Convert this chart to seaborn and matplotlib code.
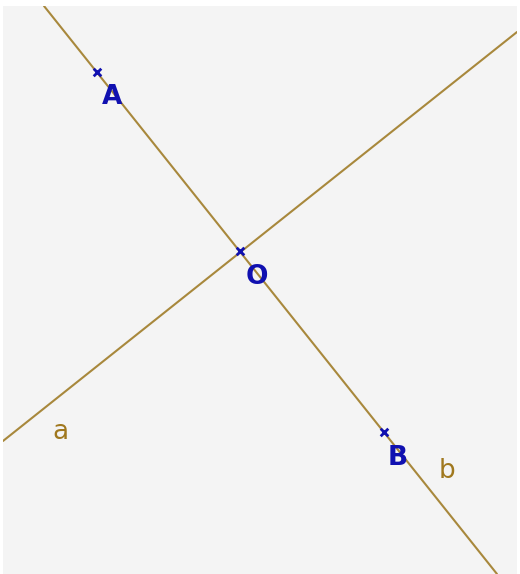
import matplotlib

matplotlib.use("Agg")
import matplotlib.pyplot as plt
import pandas as pd
import seaborn as sns

# points on line b (pixel coordinates of the drawing)
point_names = ["A", "O", "B"]
point_x = [97, 240, 384]
point_y = [72, 251, 432]
point_label_x = [112, 257, 398]
point_label_y = [97, 277, 458]

# the two lines through O, given by their end points on the panel border
line_names = ["a", "a", "b", "b"]
line_x = [3, 517, 44, 497]
line_y = [441, 32, 6, 574]
line_label_x = [60, 447]
line_label_y = [432, 471]

LINE_COLOR = "#a8883c"
LABEL_COLOR = "#a0781e"
POINT_COLOR = "#1010b0"

sns.set_style("white")
plt.rcParams["font.family"] = ["DejaVu Sans"]

fig = plt.figure(figsize=(5.2, 5.74), dpi=100)
fig.patch.set_facecolor("white")
ax = fig.add_axes([3 / 520, 0, 514 / 520, 568 / 574])
ax.set_facecolor("#f4f4f4")

lines_df = pd.DataFrame({"name": line_names, "x": line_x, "y": line_y})
sns.lineplot(
    data=lines_df, x="x", y="y", units="name", estimator=None, sort=False,
    color=LINE_COLOR, linewidth=1.5, ax=ax,
)

points_df = pd.DataFrame({"name": point_names, "x": point_x, "y": point_y})
sns.scatterplot(
    data=points_df, x="x", y="y", marker="x", color=POINT_COLOR, s=30,
    linewidth=2, ax=ax, zorder=3,
)

for name, lx, ly in zip(point_names, point_label_x, point_label_y):
    ax.text(lx, ly, name, color=POINT_COLOR, fontsize=19, fontweight="bold",
            ha="center", va="center")

for name, lx, ly in zip(["a", "b"], line_label_x, line_label_y):
    ax.text(lx, ly, name, color=LABEL_COLOR, fontsize=19,
            ha="center", va="center")

ax.set_xlim(3, 517)
ax.set_ylim(574, 6)
ax.set_xticks([])
ax.set_yticks([])
ax.set_xlabel("")
ax.set_ylabel("")
for spine in ax.spines.values():
    spine.set_visible(False)

fig.savefig("out.png", dpi=100, facecolor="white")
